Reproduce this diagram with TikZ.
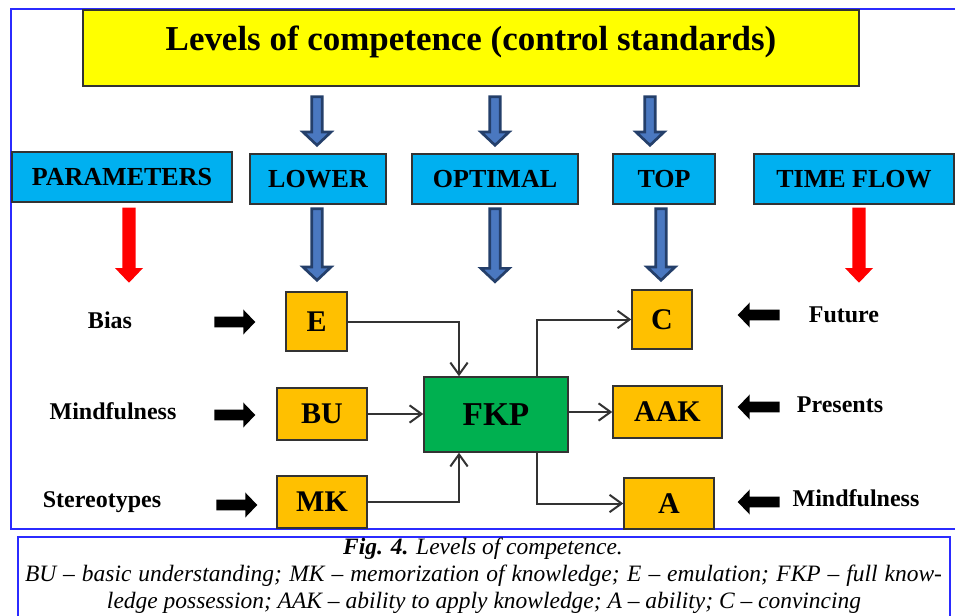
\documentclass[tikz,border=0pt]{standalone}
\usepackage{fontspec}
\setmainfont{Liberation Serif}
\usetikzlibrary{calc,arrows.meta}

\definecolor{yel}{HTML}{FFFF00}
\definecolor{cyanbox}{HTML}{00B0F0}
\definecolor{orangebox}{HTML}{FFC000}
\definecolor{greenbox}{HTML}{00B050}
\definecolor{arrowfill}{HTML}{4A78C0}
\definecolor{arrowdraw}{HTML}{243F6A}
\definecolor{framecol}{HTML}{2B2BFF}
\definecolor{linecol}{HTML}{333333}
\definecolor{boxline}{HTML}{333333}

% block arrow: #1 style, #2 start, #3 end, #4 shaft half width, #5 head half width, #6 head length
\newcommand{\blockarrow}[6]{%
  \path ($(#3)!#6!(#2)$) coordinate (bah);
  \path[#1] ($(#2)!#4!90:(#3)$) -- ($(bah)!#4!-90:(#2)$) -- ($(bah)!#5!-90:(#2)$)
    -- (#3) -- ($(bah)!#5!90:(#2)$) -- ($(bah)!#4!90:(#2)$) -- ($(#2)!#4!-90:(#3)$) -- cycle;
}

\tikzset{
  basebox/.style={draw=boxline, line width=1.1pt, inner sep=0pt},
  titlebox/.style={basebox, fill=yel, font=\fontsize{26.2}{27}\selectfont\bfseries,
    text height=17.3pt, text depth=13.5pt},
  headbox/.style={basebox, fill=cyanbox, font=\fontsize{19.5}{20}\selectfont\bfseries,
    text height=12.9pt, text depth=0pt, minimum height=37.5pt},
  obox/.style={basebox, fill=orangebox, font=\fontsize{22.5}{23}\selectfont\bfseries,
    text height=14.9pt, text depth=0pt},
  gbox/.style={basebox, fill=greenbox, font=\fontsize{25}{26}\selectfont\bfseries,
    text height=16.5pt, text depth=0pt},
  lab/.style={font=\fontsize{18}{20}\selectfont\bfseries, anchor=base, inner sep=0pt},
  conn/.style={draw=linecol, line width=1.5pt,
    -{Straight Barb[length=9pt,width=13pt]}},
  capt/.style={font=\fontsize{17.6}{20}\selectfont\itshape, anchor=base, inner sep=0pt},
  bluearrow/.style={fill=arrowfill, draw=arrowdraw, line width=2pt, line join=miter},
  redarrow/.style={fill=red},
  blackarrow/.style={fill=black},
}

\begin{document}
\begin{tikzpicture}[x=0.75pt,y=-0.75pt]
\useasboundingbox (0,0) rectangle (955,616);
\fill[white] (0,0) rectangle (955,616);

% frames
\draw[framecol, line width=1.2pt] (956,9) -- (11,9) -- (11,529) -- (956,529);
\draw[framecol, line width=1.2pt] (18,620) -- (18,537) -- (950,537) -- (950,620);

% title
\node[titlebox, minimum width=582pt, minimum height=57pt] (yellow) at (471,48)
  {Levels of competence (control standards)};

% header boxes
\node[headbox, minimum width=165pt] (params) at (122,177) {PARAMETERS};
\node[headbox, minimum width=102pt] (lower) at (318,179) {LOWER};
\node[headbox, minimum width=124.5pt] (optimal) at (495,179) {OPTIMAL};
\node[headbox, minimum width=76.5pt] (top) at (664,179) {TOP};
\node[headbox, minimum width=150pt] (timeflow) at (854,179) {TIME FLOW};

% orange and green boxes
\node[obox, minimum width=45.75pt, minimum height=44.25pt] (e) at (316.5,321.5) {E};
\node[obox, minimum width=67.5pt, minimum height=39pt] (bu) at (322,414) {BU};
\node[obox, minimum width=67.5pt, minimum height=39pt] (mk) at (322,502) {MK};
\node[gbox, minimum width=108pt, minimum height=56.25pt] (fkp) at (496,414.5) {FKP};
\node[obox, minimum width=45pt, minimum height=44.25pt] (c) at (662,319.5) {C};
\node[obox, minimum width=81.75pt, minimum height=39pt] (aak) at (667.5,412) {AAK};
\node[obox, minimum width=67.5pt, minimum height=38.25pt] (a) at (669,503.5) {A};

% labels
\node[lab] (lbias) at (110,328) {Bias};
\node[lab] (lmind) at (113,419) {Mindfulness};
\node[lab] (lster) at (102,507) {Stereotypes};
\node[lab] (lfut) at (844,322) {Future};
\node[lab] (lpres) at (840,412) {Presents};
\node[lab] (lmind2) at (856,506) {Mindfulness};

% blue block arrows (top row)
\coordinate (bt1s) at ($(lower.north |- yellow.south)+(-1,10)$);
\coordinate (bt1e) at ($(lower.north)+(-1,-8)$);
\coordinate (bt2s) at ($(optimal.north |- yellow.south)+(0,10)$);
\coordinate (bt2e) at ($(optimal.north)+(0,-8)$);
\coordinate (bt3s) at ($(top.north |- yellow.south)+(-14,10)$);
\coordinate (bt3e) at ($(top.north)+(-14,-8)$);
\blockarrow{bluearrow}{bt1s}{bt1e}{3.9pt}{10.6pt}{10pt}
\blockarrow{bluearrow}{bt2s}{bt2e}{3.9pt}{10.6pt}{10pt}
\blockarrow{bluearrow}{bt3s}{bt3e}{3.9pt}{10.6pt}{10pt}

% blue block arrows (second row)
\coordinate (bl1s) at ($(lower.south)+(-1,4)$);
\coordinate (bl1e) at ($(e.north)+(0.5,-11)$);
\coordinate (bl2s) at ($(optimal.south)+(0,4)$);
\coordinate (bl2e) at ($(optimal.south)+(0,77)$);
\coordinate (bl3s) at ($(c.north |- top.south)+(-1,4)$);
\coordinate (bl3e) at ($(c.north)+(-1,-9)$);
\blockarrow{bluearrow}{bl1s}{bl1e}{3.9pt}{10.6pt}{10pt}
\blockarrow{bluearrow}{bl2s}{bl2e}{3.9pt}{10.6pt}{10pt}
\blockarrow{bluearrow}{bl3s}{bl3e}{3.9pt}{10.6pt}{10pt}

% red block arrows
\coordinate (r1s) at ($(params.south)+(7,5)$);
\coordinate (r1e) at ($(params.south)+(7,80)$);
\coordinate (r2s) at ($(timeflow.south)+(5,3)$);
\coordinate (r2e) at ($(timeflow.south)+(5,78)$);
\blockarrow{redarrow}{r1s}{r1e}{4.9pt}{10.5pt}{11pt}
\blockarrow{redarrow}{r2s}{r2e}{4.9pt}{10.5pt}{11pt}

% black block arrows (left, pointing right)
\coordinate (k1s) at ($(e.west)+(-71,0.5)$);
\coordinate (k1e) at ($(e.west)+(-30,0.5)$);
\coordinate (k2s) at ($(bu.west)+(-62,1)$);
\coordinate (k2e) at ($(bu.west)+(-21,1)$);
\coordinate (k3s) at ($(mk.west)+(-60,3)$);
\coordinate (k3e) at ($(mk.west)+(-19,3)$);
\blockarrow{blackarrow}{k1s}{k1e}{4.1pt}{9.4pt}{9pt}
\blockarrow{blackarrow}{k2s}{k2e}{4.1pt}{9.4pt}{9pt}
\blockarrow{blackarrow}{k3s}{k3e}{4.1pt}{9.4pt}{9pt}

% black block arrows (right, pointing left)
\coordinate (k4s) at ($(c.east)+(87,-4.5)$);
\coordinate (k4e) at ($(c.east)+(45,-4.5)$);
\coordinate (k5s) at ($(aak.east)+(57,-5)$);
\coordinate (k5e) at ($(aak.east)+(15,-5)$);
\coordinate (k6s) at ($(a.east)+(65,-1.5)$);
\coordinate (k6e) at ($(a.east)+(23,-1.5)$);
\blockarrow{blackarrow}{k4s}{k4e}{4.1pt}{9.4pt}{9pt}
\blockarrow{blackarrow}{k5s}{k5e}{4.1pt}{9.4pt}{9pt}
\blockarrow{blackarrow}{k6s}{k6e}{4.1pt}{9.4pt}{9pt}

% thin connectors
\draw[conn] (e.east) -| ($(fkp.north)+(-37,0)$);
\draw[conn] (bu.east) -- (bu.east -| fkp.west);
\draw[conn] (mk.east) -| ($(fkp.south)+(-37,0)$);
\draw[conn] ($(fkp.north)+(41,0)$) |- (c.west);
\draw[conn] (fkp.east |- aak.west) -- (aak.west);
\draw[conn] ($(fkp.south)+(41,0)$) |- (a.west);

% caption
\node[capt] (cap1) at (483,554) {{\bfseries Fig. 4.} Levels of competence.};
\node[capt] (cap2) at (483.5,581) {\makebox[687.75pt][s]{BU – basic understanding; MK – memorization of knowledge; E – emulation; FKP – full know-}};
\node[capt] (cap3) at (484,608) {ledge possession; AAK – ability to apply knowledge; A – ability; C – convincing};
\end{tikzpicture}
\end{document}
